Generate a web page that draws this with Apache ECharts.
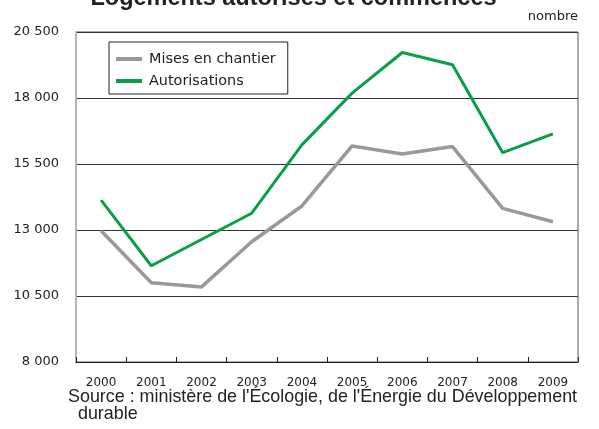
<!DOCTYPE html>
<html>
<head>
<meta charset="utf-8">
<script src="https://cdn.jsdelivr.net/npm/echarts@6/dist/echarts.min.js"></script>
<style>html,body{margin:0;padding:0;background:#fff;}#c{width:599px;height:429px;}</style>
</head>
<body>
<div id="c"></div>
<script>
const categories = ['2000','2001','2002','2003','2004','2005','2006','2007','2008','2009'];
const misesEnChantier = [12970, 11000, 10845, 12555, 13910, 16185, 15880, 16160, 13820, 13315];
const autorisations = [14135, 11645, 12640, 13635, 16225, 18185, 19725, 19260, 15930, 16640];
const yTicks = [8000, 10500, 13000, 15500, 18000, 20500];
const seriesNames = ['Mises en chantier', 'Autorisations'];

function fmt(v){ return String(v).replace(/\B(?=(\d{3})+(?!\d))/g, ' '); }

const chart = echarts.init(document.getElementById('c'), null, {renderer:'canvas'});
const legendIcon = 'path://M0,0 L26,0 L26,4 L0,4 Z';
chart.setOption({
  animation:false,
  backgroundColor:'#fff',
  grid:{left:76, right:21, top:32, bottom:67, show:true, borderColor:'#555', borderWidth:1, backgroundColor:'transparent'},
  legend:{
    orient:'vertical', left:109, top:42,
    padding:[10,12,6,7], itemGap:8, itemWidth:26, itemHeight:14,
    borderColor:'#222', borderWidth:1, borderRadius:0,
    textStyle:{fontFamily:'DejaVu Sans', fontSize:14.4, color:'#222', padding:[0,0,0,2]},
    data:[{name:seriesNames[0], icon:legendIcon},{name:seriesNames[1], icon:legendIcon}]
  },
  xAxis:{
    type:'category', data:categories, boundaryGap:true,
    axisLine:{show:true, lineStyle:{color:'#222', width:1}},
    axisTick:{show:true, inside:true, length:5, lineStyle:{color:'#222'}},
    axisLabel:{fontFamily:'DejaVu Sans', fontSize:12, color:'#222', margin:15},
    splitLine:{show:false}
  },
  yAxis:{
    type:'value', min:yTicks[0], max:yTicks[yTicks.length-1], interval:yTicks[1]-yTicks[0],
    axisLine:{show:true, lineStyle:{color:'#b4b4b4', width:2}},
    axisTick:{show:false},
    axisLabel:{fontFamily:'DejaVu Sans', fontSize:13, color:'#222', margin:17, formatter:fmt},
    splitLine:{show:true, lineStyle:{color:'#333', width:1}}
  },
  series:[
    {name:seriesNames[0], type:'line', data:misesEnChantier, symbol:'none', color:'#999999',
     lineStyle:{width:3.5, color:'#999999'}, z:2},
    {name:seriesNames[1], type:'line', data:autorisations, symbol:'none', color:'#0a9e4a',
     lineStyle:{width:3, color:'#0a9e4a'}, z:3}
  ],
  graphic:[
    {type:'text', x:293.5, y:-13, style:{text:'Logements autorisés et commencés', font:'bold 23.5px "Liberation Sans"', fill:'#222', textAlign:'center', textVerticalAlign:'top'}},
    {type:'text', x:578, y:10, style:{text:'nombre', font:'13px "DejaVu Sans"', fill:'#222', textAlign:'right', textVerticalAlign:'top'}},
    {type:'text', x:68, y:388.5, style:{text:"Source : ministère de l'Écologie, de l'Énergie du Développement", font:'17.9px "Liberation Sans"', fill:'#222', textAlign:'left', textVerticalAlign:'top'}},
    {type:'text', x:73, y:405.5, style:{text:' durable', font:'17.9px "Liberation Sans"', fill:'#222', textAlign:'left', textVerticalAlign:'top'}}
  ]
});
</script>
</body>
</html>
